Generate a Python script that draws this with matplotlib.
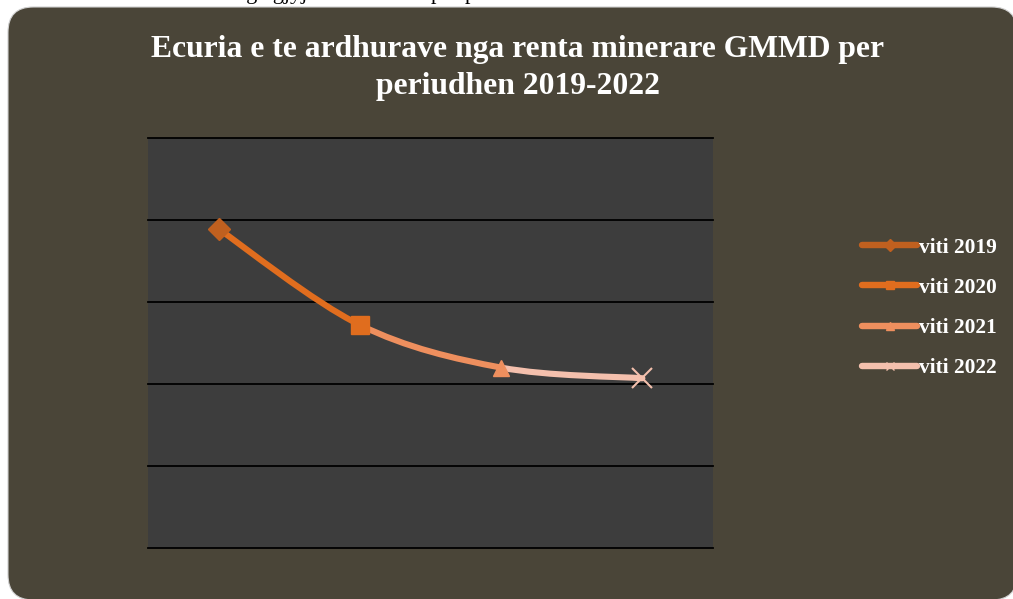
import numpy as np
import matplotlib.pyplot as plt
from matplotlib.patches import FancyBboxPatch, PathPatch
from matplotlib.path import Path
from matplotlib.lines import Line2D

# te dhenat (vlerat e lexuara nga grafiku, njesi relative)
vitet = ['viti 2019', 'viti 2020', 'viti 2021', 'viti 2022']
vlerat = [389, 272, 220, 207]
ngjyrat = ['#c0601f', '#e06d1e', '#ee8f5e', '#f4c0ad']
shenjat = ['D', 's', '^', 'x']

fig = plt.figure(figsize=(10.13, 5.99), dpi=100)
fig.patch.set_facecolor('white')

# sfondi me kende te rrumbullakuara (del pak jashte djathtas dhe poshte)
bg = FancyBboxPatch((8 / 1013, -1 / 599), (1017 - 8) / 1013, (600 - 7) / 599,
                    boxstyle='round,pad=0,rounding_size=0.025',
                    transform=fig.transFigure, facecolor='#4a4538',
                    edgecolor='#cfcfcf', linewidth=0.8, zorder=0,
                    mutation_aspect=1013 / 599)
fig.patches.append(bg)

# teksti i prere lart (vetem bishtat e germave duken)
fig.text(0.232, 1 + 1 / 599, 'nga gjyja', fontsize=16, family='Liberation Serif',
         va='baseline', ha='left', color='black')
fig.text(0.425, 1 + 1 / 599, 'per periudhen', fontsize=16, family='Liberation Serif',
         va='baseline', ha='left', color='black')

fig.text(0.511, 1 - 68 / 599, 'Ecuria e te ardhurave nga renta minerare GMMD per\nperiudhen 2019-2022',
         ha='center', va='center', fontsize=22.8, fontweight='bold',
         family='Liberation Serif', color='white', linespacing=1.37)

ax = fig.add_axes([148 / 1013, 1 - 548 / 599, 565 / 1013, 410 / 599])
ax.set_zorder(2)
ax.set_facecolor('#3d3d3d')
ax.set_xlim(0, 4)
ax.set_ylim(0, 500)
for s in ax.spines.values():
    s.set_visible(False)
ax.set_xticks([])
ax.set_yticks([])
for yv in range(0, 501, 100):
    ax.axhline(yv, color='black', linewidth=1.3, zorder=1, clip_on=False)

x = np.arange(len(vlerat)) + 0.5
y = np.array(vlerat, dtype=float)

# vije e lemuar (Catmull-Rom -> Bezier), cdo segment me ngjyren e pikes fundore
for i in range(len(x) - 1):
    p0 = np.array([x[max(i - 1, 0)], y[max(i - 1, 0)]])
    p1 = np.array([x[i], y[i]])
    p2 = np.array([x[i + 1], y[i + 1]])
    p3 = np.array([x[min(i + 2, len(x) - 1)], y[min(i + 2, len(x) - 1)]])
    c1 = p1 + (p2 - p0) / 6
    c2 = p2 - (p3 - p1) / 6
    path = Path([p1, c1, c2, p2], [Path.MOVETO, Path.CURVE4, Path.CURVE4, Path.CURVE4])
    ax.add_patch(PathPatch(path, facecolor='none', edgecolor=ngjyrat[i + 1],
                           linewidth=4.4, capstyle='round', zorder=2))

madhesi = [11, 13, 12, 14]
for i in range(len(x)):
    if shenjat[i] == 'x':
        ax.plot(x[i], y[i], marker='x', markersize=madhesi[i], color=ngjyrat[i],
                markeredgewidth=1.5, zorder=3, linestyle='none')
    else:
        ax.plot(x[i], y[i], marker=shenjat[i], markersize=madhesi[i], color=ngjyrat[i],
                markeredgecolor=ngjyrat[i], zorder=3, linestyle='none')

handles = []
for i in range(len(vitet)):
    handles.append(Line2D([0], [0], color=ngjyrat[i], linewidth=4.6, marker=shenjat[i],
                          markersize=6, markeredgewidth=1, solid_capstyle='round'))
leg = fig.legend(handles, vitet, loc='center left', bbox_to_anchor=(843 / 1013, 1 - 308 / 599),
                 frameon=False, handlelength=2.55, handletextpad=0.08, labelspacing=0.94,
                 prop={'family': 'Liberation Serif', 'weight': 'bold', 'size': 15.4})
for t in leg.get_texts():
    t.set_color('white')

fig.savefig('out.png', dpi=100, facecolor=fig.get_facecolor())
